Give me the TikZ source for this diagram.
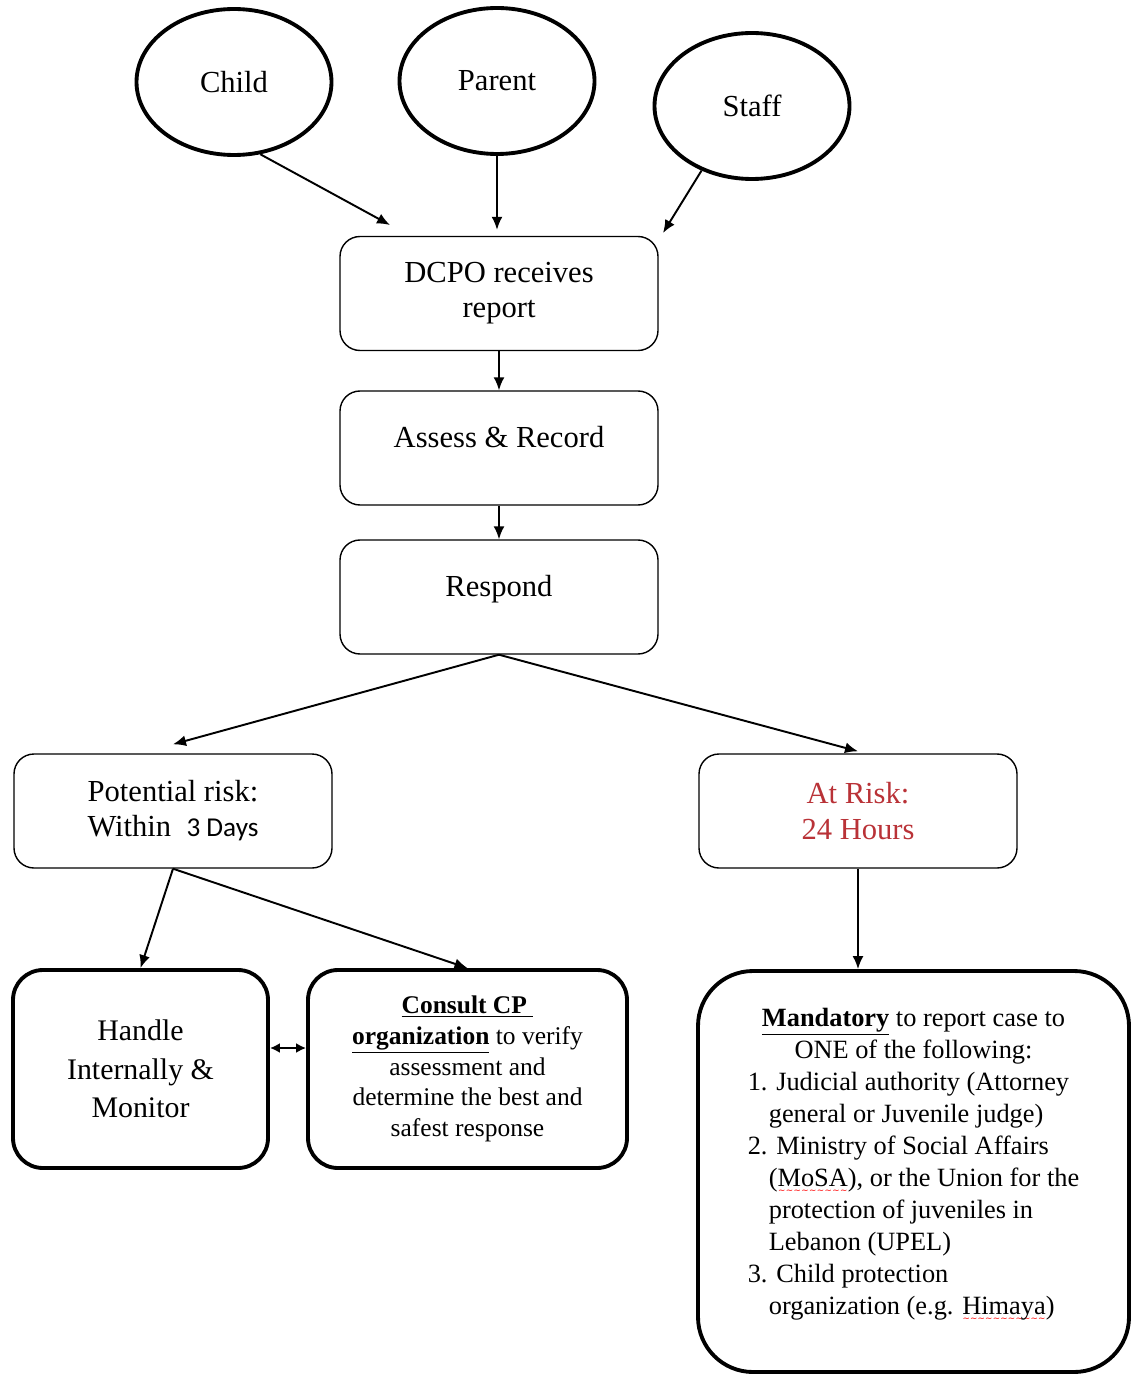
\documentclass[tikz,border=0pt]{standalone}
\usepackage{fontspec}
\setmainfont{Liberation Serif}
\newfontfamily\daysfont{Carlito}
\newfontfamily\wavefont{DejaVu Sans}
\usetikzlibrary{shapes.geometric,arrows.meta}
\definecolor{riskred}{RGB}{185,50,55}
\newcommand\spellwave[1]{\setbox0\hbox{#1}\rlap{\raisebox{-4pt}{\textcolor{red}{\wavefont\fontsize{5}{5}\selectfont\xleaders\hbox{\char"223C}\hskip\wd0}}}#1}

\begin{document}
\begin{tikzpicture}[auto, thick, >={Latex[length=2.6mm,width=2.2mm]},
		source node/.style={ellipse,draw,line width=2.2pt,minimum width=3.9cm,minimum height=2.92cm,inner sep=0pt,font=\fontsize{17.4}{20}\selectfont},
		step node/.style={rectangle,draw,rounded corners=0.4cm,line width=0.8pt,minimum width=6.36cm,minimum height=2.28cm,align=center,font=\fontsize{17.4}{20}\selectfont},
		action node/.style={rectangle,draw,rounded corners=0.6cm,line width=2.2pt,minimum height=3.96cm,align=center}]
		
		\useasboundingbox (0,0) rectangle (22.64,-27.52);
		
		% who reports
		\node[source node] (1) at (4.68,-1.64) {Child};
		\node[source node] (2) at (9.94,-1.62) {Parent};
		\node[source node] (3) at (15.04,-2.12) {Staff};
		
		% main steps
		\node[step node] (4) at (9.98,-5.87) {DCPO receives\\report};
		\node[step node, text depth=0.45cm] (5) at (9.98,-8.96) {Assess \& Record};
		\node[step node, text depth=0.45cm] (6) at (9.98,-11.94) {Respond};
		\node[step node] (7) at (3.46,-16.22) {Potential risk:\\Within~ {\daysfont\fontsize{15.5}{20}\selectfont 3 Days}};
		\node[step node, text=riskred] (8) at (17.16,-16.22) {At Risk:\\24 Hours};
		
		% outcomes
		\node[action node, minimum width=5.1cm, font=\fontsize{17}{22}\selectfont] (9) at (2.81,-21.38)
		{Handle\\Internally \&\\Monitor};
		\node[action node, minimum width=6.38cm, font=\fontsize{14.5}{17.4}\selectfont] (10) at (9.35,-21.38)
		{\underline{\textbf{Consult CP\ }}\\\underline{\textbf{organization}} to verify\\assessment and\\determine the best and\\safest response};
		\node[action node, rounded corners=1.1cm, minimum width=8.62cm, minimum height=8.02cm, font=\fontsize{15}{18.2}\selectfont] (11) at (18.27,-23.43)
		{\begin{tabular}{@{}l@{}}
				\multicolumn{1}{@{}c@{}}{\underline{\textbf{Mandatory}} to report case to}\\
				\multicolumn{1}{@{}c@{}}{ONE of the following:}\\
				1. Judicial authority (Attorney\\
				\hspace*{0.8em}general or Juvenile judge)\\
				2. Ministry of Social Affairs\\
				\hspace*{0.8em}(\spellwave{MoSA}), or the Union for the\\
				\hspace*{0.8em}protection of juveniles in\\
				\hspace*{0.8em}Lebanon (UPEL)\\
				3. Child protection\\
				\hspace*{0.8em}organization (e.g. \spellwave{Himaya})\\[0.3cm]
		\end{tabular}};
		
		\coordinate (c1) at (7.8,-4.5);
		\coordinate (c3) at (13.26,-4.66);
		
		\path[->, line width=1.1pt]
		(1.290) edge (c1)
		(2.south) edge ([yshift=0.12cm]2.south |- 4.north)
		(3.232) edge (c3)
		(4) edge (5)
		(5) edge (6)
		(6.south) edge ([yshift=0.18cm]7.north)
		(6.south) edge ([yshift=0.04cm]8.north)
		(7.south) edge (9.north)
		(7.south) edge (10.north)
		(8.south) edge (8.south |- 11.north);
		\path[{Latex[length=2mm,width=2mm]}-{Latex[length=2mm,width=2mm]}, line width=1.1pt]
		([yshift=0.42cm]9.east) edge ([yshift=0.42cm]10.west);
\end{tikzpicture}
\end{document}
